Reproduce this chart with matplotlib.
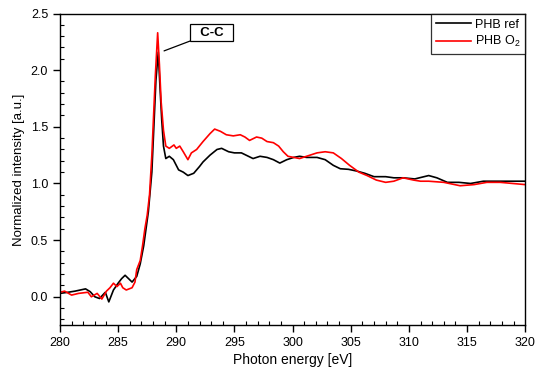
import matplotlib
matplotlib.use('Agg')
import matplotlib.pyplot as plt
from matplotlib.ticker import MultipleLocator

plt.rcParams['font.family'] = ['Liberation Sans', 'DejaVu Sans']
plt.rcParams['mathtext.default'] = 'regular'

# PHB ref (nero)
energia_ref = [280, 280.7, 281.3, 282.2, 282.6, 283.0, 283.4, 283.9, 284.2, 284.6,
               285.0, 285.3, 285.6, 285.9, 286.2, 286.6, 286.9, 287.2, 287.6, 287.9,
               288.1, 288.25, 288.45, 288.6, 288.75, 288.9, 289.1, 289.4, 289.75, 290.2,
               290.6, 291.0, 291.5, 292.0, 292.3, 292.9, 293.5, 293.9, 294.5, 295.0,
               295.6, 296.2, 296.6, 297.2, 297.8, 298.35, 298.9, 299.5, 300.1, 300.6,
               301.2, 302.1, 302.8, 303.5, 304.1, 304.8, 305.5, 306.2, 307.0, 308.0,
               308.7, 309.5, 310.5, 311.7, 312.4, 313.3, 314.3, 315.3, 316.4, 317.85,
               319.6, 320]
intens_ref = [0.03, 0.04, 0.05, 0.07, 0.045, 0.0, -0.015, 0.04, -0.045, 0.06,
              0.12, 0.16, 0.19, 0.16, 0.13, 0.18, 0.29, 0.45, 0.75, 1.10,
              1.56, 1.91, 2.16, 1.85, 1.56, 1.33, 1.22, 1.24, 1.21, 1.12,
              1.10, 1.07, 1.09, 1.15, 1.19, 1.25, 1.30, 1.31, 1.28, 1.27,
              1.27, 1.24, 1.22, 1.24, 1.23, 1.21, 1.18, 1.21, 1.23, 1.24,
              1.23, 1.23, 1.21, 1.16, 1.13, 1.125, 1.11, 1.09, 1.06, 1.06,
              1.05, 1.05, 1.04, 1.07, 1.05, 1.01, 1.01, 1.00, 1.02, 1.02,
              1.02, 1.02]

# PHB O2 (rosso)
energia_o2 = [280, 280.4, 281.0, 281.6, 282.4, 282.7, 283.2, 283.6, 284.0, 284.3,
              284.6, 284.9, 285.2, 285.4, 285.7, 286.2, 286.45, 286.6, 286.9, 287.1,
              287.3, 287.5, 287.7, 287.9, 288.05, 288.2, 288.4, 288.55, 288.7, 288.9,
              289.1, 289.4, 289.8, 290.0, 290.3, 290.6, 291.0, 291.3, 291.75, 292.3,
              292.9, 293.3, 293.8, 294.3, 294.9, 295.5, 295.9, 296.3, 296.9, 297.35,
              297.8, 298.35, 298.8, 299.2, 299.6, 300.1, 300.6, 301.2, 302.1, 302.8,
              303.5, 304.2, 304.9, 305.7, 306.4, 307.2, 308.0, 308.7, 309.5, 310.4,
              311.0, 311.7, 313.0, 314.4, 315.6, 316.7, 317.85, 320]
intens_o2 = [0.04, 0.05, 0.015, 0.03, 0.04, 0.0, 0.03, -0.02, 0.05, 0.08,
             0.12, 0.09, 0.12, 0.08, 0.06, 0.08, 0.13, 0.24, 0.32, 0.45,
             0.60, 0.72, 0.90, 1.25, 1.60, 1.95, 2.33, 2.05, 1.72, 1.47,
             1.33, 1.31, 1.34, 1.31, 1.33, 1.28, 1.21, 1.27, 1.30, 1.37,
             1.44, 1.48, 1.46, 1.43, 1.42, 1.43, 1.41, 1.38, 1.41, 1.40,
             1.37, 1.36, 1.33, 1.28, 1.24, 1.23, 1.22, 1.24, 1.27, 1.28,
             1.27, 1.22, 1.16, 1.10, 1.07, 1.03, 1.01, 1.02, 1.05, 1.03,
             1.02, 1.02, 1.01, 0.98, 0.99, 1.01, 1.01, 0.99]

etichette = ['PHB ref', 'PHB O$_2$']

fig = plt.figure(figsize=(5.5, 3.75), dpi=100)
ax = fig.add_axes([0.109, 0.133, 0.846, 0.831])

ax.plot(energia_ref, intens_ref, color='black', lw=1.2, label=etichette[0])
ax.plot(energia_o2, intens_o2, color='red', lw=1.2, label=etichette[1])

ax.set_xlim(280, 320)
ax.set_ylim(-0.25, 2.5)
ax.xaxis.set_major_locator(MultipleLocator(5))
ax.xaxis.set_minor_locator(MultipleLocator(1))
ax.yaxis.set_major_locator(MultipleLocator(0.5))
ax.yaxis.set_minor_locator(MultipleLocator(0.1))
ax.yaxis.set_major_formatter(matplotlib.ticker.FormatStrFormatter('%.1f'))
ax.tick_params(which='major', direction='out', length=5, width=1, labelsize=9)
ax.tick_params(which='minor', direction='in', length=3, width=0.8)
for s in ax.spines.values():
    s.set_linewidth(1)

ax.set_xlabel('Photon energy [eV]', fontsize=10, labelpad=3)
ax.set_ylabel('Normalized intensity [a.u.]', fontsize=9.5, labelpad=4)

# etichetta del picco con riquadro
ax.annotate('  C-C  ', xy=(288.95, 2.17), xytext=(293.06, 2.33),
            ha='center', va='center', fontsize=9.5, fontweight='bold',
            bbox=dict(boxstyle='square,pad=0.2', fc='white', ec='black', lw=0.9),
            arrowprops=dict(arrowstyle='-', color='black', lw=0.9,
                            shrinkA=0, shrinkB=0))

leg = ax.legend(loc='upper right', fontsize=9, frameon=True, fancybox=False,
                borderaxespad=0, handlelength=2.8, handletextpad=0.3,
                borderpad=0.4, labelspacing=0.3)
leg.get_frame().set_edgecolor('black')
leg.get_frame().set_linewidth(0.9)

fig.savefig('out.png', dpi=100)
